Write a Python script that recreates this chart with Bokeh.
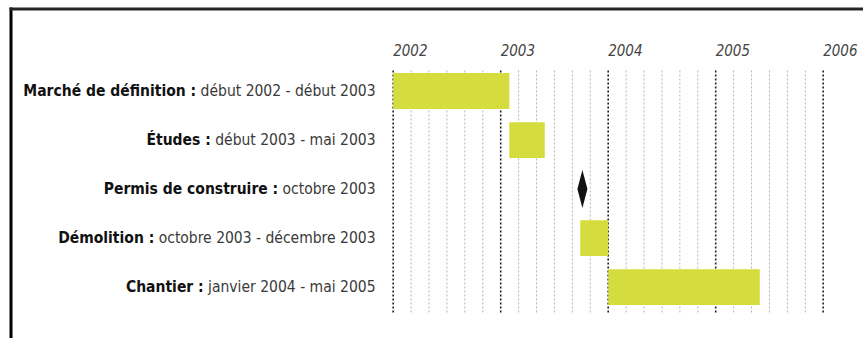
from bokeh.plotting import figure
from bokeh.models import ColumnDataSource, Range1d, CustomJSTransform, BoxAnnotation
from bokeh.core.properties import value
from bokeh.embed import file_html
from bokeh.resources import INLINE

# ---------------- data ----------------
tasks = ["Marché de définition :", "Études :", "Permis de construire :",
         "Démolition :", "Chantier :"]
periods = ["début 2002 - début 2003", "début 2003 - mai 2003", "octobre 2003",
           "octobre 2003 - décembre 2003", "janvier 2004 - mai 2005"]
task_rows = [0, 1, 2, 3, 4]

bar_rows = [0, 1, 3, 4]
bar_start = [2002.0, 2003.08, 2003.74, 2004.0]
bar_end = [2003.08, 2003.41, 2004.0, 2005.41]

milestone_rows = [2]
milestone_x = [2003.76]

years = [2002, 2003, 2004, 2005, 2006]
year_labels = ["2002", "2003", "2004", "2005", "2006"]
months_per_minor = 2
minor_ticks = [y + k * months_per_minor / 12 for y in years[:-1] for k in range(1, 6)]

# ---------------- style / layout ----------------
LABEL_FAMILY = "'DejaVu Sans Condensed', 'Liberation Sans Narrow', 'Roboto Condensed', Roboto, sans-serif"
LABEL_SIZE = 15.5
LABEL_PAD = 17.7          # px gap between labels and first gridline
BAR_H = 0.73              # in rows
GRID_TOP, GRID_BOT = -0.418, 4.536
YEAR_Y = -0.826
DIA_HW, DIA_HH = 0.0465, 0.387
BAR_COLOR = "#d4dd3d"

W, H = 863, 338
px_per_year = 107.5
x0 = 2002 - 392.7 / px_per_year
row_px = 49.05
y_top = -90.5 / row_px


def xd(px):
    return x0 + px / px_per_year


def yd(px):
    return y_top + px / row_px


p = figure(width=W, height=H, output_backend="svg", toolbar_location=None,
           x_axis_type=None, y_axis_type=None,
           x_range=Range1d(x0, xd(W)),
           y_range=Range1d(yd(H), y_top),
           min_border=0, outline_line_color=None,
           background_fill_color="white", border_fill_color="white")

# frame border (left and top edges of the picture)
p.add_layout(BoxAnnotation(left=xd(9), right=xd(12), top=yd(7), bottom=yd(H),
                           fill_color="#000000", fill_alpha=1, line_color=None))
p.add_layout(BoxAnnotation(left=xd(9), right=xd(W), top=yd(7), bottom=yd(10),
                           fill_color="#262626", fill_alpha=1, line_color=None))

# gridlines
minor_src = ColumnDataSource(dict(x=minor_ticks, y0=[GRID_TOP] * len(minor_ticks),
                                  y1=[GRID_BOT] * len(minor_ticks)))
p.segment(x0="x", y0="y0", x1="x", y1="y1", source=minor_src,
          line_color="#b4b4b4", line_width=1, line_dash="2 2")
major_src = ColumnDataSource(dict(x=years, y0=[GRID_TOP] * len(years),
                                  y1=[GRID_BOT] * len(years)))
p.segment(x0="x", y0="y0", x1="x", y1="y1", source=major_src,
          line_color="#222222", line_width=1.6, line_dash="2 2")

# bars
bar_src = ColumnDataSource(dict(left=bar_start, right=bar_end, y=bar_rows))
p.hbar(y="y", left="left", right="right", height=BAR_H, source=bar_src,
       fill_color=BAR_COLOR, line_color=None)

# milestone diamond
mxs = [[x - DIA_HW, x, x + DIA_HW, x] for x in milestone_x]
mys = [[r, r - DIA_HH, r, r + DIA_HH] for r in milestone_rows]
p.patches(xs=mxs, ys=mys, fill_color="#111111", line_color=None)

# year labels
yr_src = ColumnDataSource(dict(x=years, y=[YEAR_Y] * len(years), t=year_labels))
p.text(x="x", y="y", text="t", source=yr_src, text_align="left",
       text_baseline="middle", text_font=value(LABEL_FAMILY),
       text_font_style="italic", text_font_size="15px", text_color="#444444")

# row labels: regular part
reg_src = ColumnDataSource(dict(x=[years[0]] * len(periods), y=task_rows, t=periods))
p.text(x="x", y="y", text="t", source=reg_src, text_align="right",
       text_baseline="middle", x_offset=-LABEL_PAD,
       text_font=value(LABEL_FAMILY), text_font_size=f"{LABEL_SIZE}px",
       text_color="#3a3a3a")

# row labels: bold part, offset measured in the browser from the regular part
measure = CustomJSTransform(args=dict(font=f"{LABEL_SIZE}px {LABEL_FAMILY}", pad=LABEL_PAD), v_func="""
const c = document.createElement('canvas').getContext('2d');
c.font = font;
const out = new Float64Array(xs.length);
for (let i = 0; i < xs.length; i++) {
  out[i] = -(pad + c.measureText(' ' + xs[i]).width);
}
return out;
""")
bold_src = ColumnDataSource(dict(x=[years[0]] * len(tasks), y=task_rows, t=tasks, reg=periods))
p.text(x="x", y="y", text="t", source=bold_src, text_align="right",
       text_baseline="middle", x_offset={"field": "reg", "transform": measure},
       text_font=value(LABEL_FAMILY), text_font_size=f"{LABEL_SIZE}px",
       text_font_style="bold", text_color="#111111")

open("out.html", "w").write(file_html(p, INLINE))
